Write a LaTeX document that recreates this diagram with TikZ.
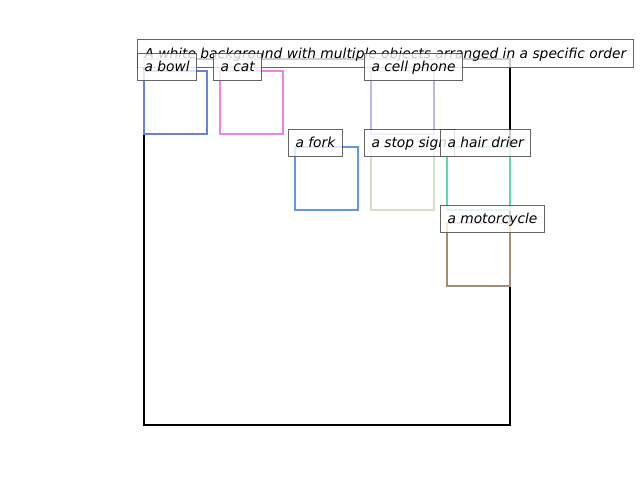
\documentclass[tikz,border=0pt]{standalone}
\usepackage{fontspec}
\setmainfont{DejaVu Sans}
\begin{document}
\begin{tikzpicture}[x=1pt,y=-1pt,
  frame/.style={draw=black,line width=2.5pt},
  obj/.style={line width=2.5pt},
  lbl/.style={draw=black!75,line width=1pt,fill=white,fill opacity=0.8,text opacity=1,
    draw opacity=0.8,anchor=south west,inner xsep=7pt,inner ysep=6.6pt,
    text height=11.6pt,text depth=2.2pt,
    font=\fontsize{13.8}{16}\selectfont\itshape}]
\useasboundingbox (0,0) rectangle (640,480);
\definecolor{cbowl}{HTML}{6B7FDC}
\definecolor{ccat}{HTML}{EE82E6}
\definecolor{cphone}{HTML}{C0B4EE}
\definecolor{cfork}{HTML}{6495ED}
\definecolor{cstop}{HTML}{D4E0C4}
\definecolor{chair}{HTML}{5FD8B0}
\definecolor{cmoto}{HTML}{A09078}
% main frame
\draw[frame] (144,59) rectangle (510,425);
% title
\node[lbl,minimum height=28pt] (title) at (137,68) {A white background with multiple objects arranged in a specific order};
% objects
\draw[obj,cbowl] (144,71) rectangle (207,134);
\draw[obj,ccat] (220,71) rectangle (283,134);
\draw[obj,cphone] (371,71) rectangle (434,134);
\draw[obj,cfork] (295,147) rectangle (358,210);
\draw[obj,cstop] (371,147) rectangle (434,210);
\draw[obj,chair] (447,147) rectangle (510,210);
\draw[obj,cmoto] (447,223) rectangle (510,286);
% labels
\node[lbl] (lbowl) at (137,81) {a bowl};
\node[lbl] (lcat) at (213,81) {a cat};
\node[lbl] (lphone) at (364,81) {a cell phone};
\node[lbl] (lfork) at (288,157) {a fork};
\node[lbl] (lstop) at (364,157) {a stop sign};
\node[lbl] (lhair) at (440,157) {a hair drier};
\node[lbl] (lmoto) at (440,233) {a motorcycle};
\end{tikzpicture}
\end{document}
